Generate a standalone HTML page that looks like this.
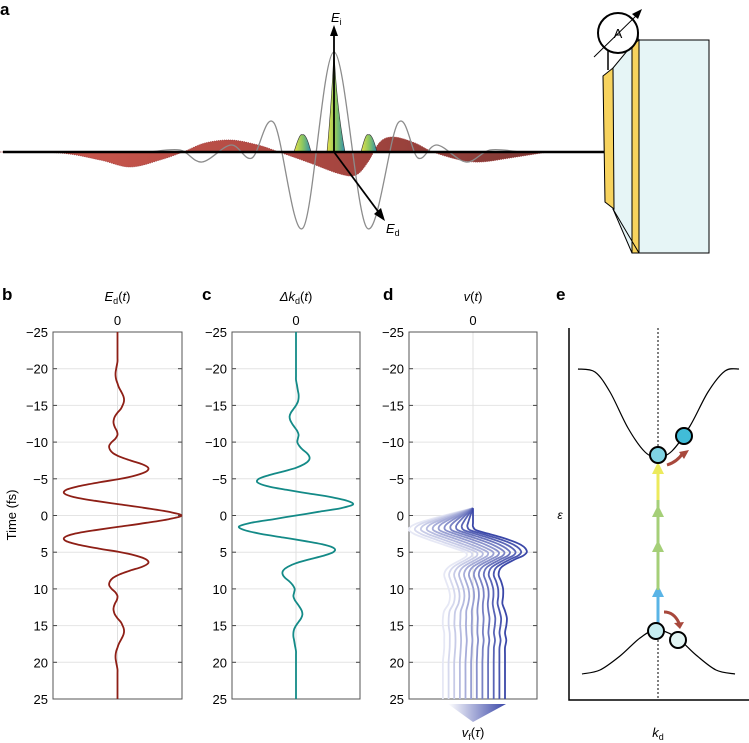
<!DOCTYPE html>
<html><head><meta charset="utf-8"><style>
body{margin:0;background:#fff}
svg{display:block;font-family:"Liberation Sans",sans-serif}
</style></head><body>
<svg id="fig" width="749" height="743" viewBox="0 0 749 743" xmlns="http://www.w3.org/2000/svg">
<defs>
<linearGradient id="redg" x1="0" x2="1" y1="0" y2="0"><stop offset="0" stop-color="#cf5a4f"/><stop offset="0.5" stop-color="#b24a43"/><stop offset="1" stop-color="#7e3834"/></linearGradient>
<linearGradient id="spk" x1="0" x2="1"><stop offset="0" stop-color="#e8e04a"/><stop offset="0.5" stop-color="#8cc760"/><stop offset="1" stop-color="#2f8fb0"/></linearGradient>
<linearGradient id="trig" x1="0" x2="1"><stop offset="0" stop-color="#ffffff"/><stop offset="1" stop-color="#3a47a8"/></linearGradient>
</defs>
<g id="pa"></g>
<g id="pb"></g>
<g id="pc"></g>
<g id="pd"></g>
<g id="pe"></g>
</svg>
<script>
// ---- data ----
const times = [];
for (let i = 0; i <= 100; i++) times.push(-25 + i * 0.5);
// E_d(t), fraction of half width, t = 0..25 step 0.5 (symmetric)
const edHalf = [1.0,0.8,0.45,0.05,-0.35,-0.68,-0.83,-0.8,-0.6,-0.3,0.05,0.3,0.45,0.48,0.38,0.2,0.04,-0.07,-0.12,-0.13,-0.09,-0.03,0.0,-0.01,-0.04,-0.06,-0.06,-0.04,0.0,0.05,0.08,0.1,0.1,0.08,0.05,0.02,0.0,-0.02,-0.03,-0.03,-0.02,-0.01,0.0,0.0,0.0,0.0,0.0,0.0,0.0,0.0,0.0];
const edValues = times.map(t => edHalf[Math.round(Math.abs(t) * 2)]);
// Δk_d(t), t = 0..25 step 0.5 (antisymmetric: value at -t is +)
const dkHalf = [0.0,-0.35,-0.7,-0.89,-0.8,-0.55,-0.2,0.15,0.45,0.6,0.58,0.42,0.2,0.0,-0.13,-0.2,-0.21,-0.17,-0.1,-0.05,-0.02,-0.03,-0.04,-0.02,0.02,0.06,0.09,0.1,0.08,0.04,0.0,-0.03,-0.04,-0.04,-0.03,-0.02,-0.01,0,0,0,0,0,0,0,0,0,0,0,0,0,0];
const dkValues = times.map(t => { const v = dkHalf[Math.round(Math.abs(t) * 2)]; return t < 0 ? -v : v; });
// v(t) family: darkest and lightest curves (t = -1..25)
const vTimes = [-1,0,1,1.5,2,2.5,3,3.5,4,4.5,5,5.5,6,7,8,9,10,11,12,13,14,15,16,17,18,19,20,22,25];
const vDark  = [0,0,0,0,0.05,0.25,0.45,0.62,0.75,0.82,0.84,0.78,0.65,0.45,0.4,0.44,0.47,0.47,0.46,0.5,0.53,0.52,0.5,0.52,0.5,0.5,0.5,0.5,0.5];
const vLight = [0,-0.45,-0.85,-0.97,-1.0,-0.92,-0.78,-0.62,-0.45,-0.28,-0.12,-0.1,-0.18,-0.38,-0.45,-0.42,-0.38,-0.36,-0.38,-0.45,-0.47,-0.47,-0.45,-0.45,-0.45,-0.46,-0.47,-0.47,-0.47];
const nCurves = 12;
const yTicks = [-25,-20,-15,-10,-5,0,5,10,15,20,25];
const yTickLabels = ["\u221225","\u221220","\u221215","\u221210","\u22125","0","5","10","15","20","25"];

const NS = "http://www.w3.org/2000/svg";
function mk(tag, attrs, parent, text) {
  const e = document.createElementNS(NS, tag);
  for (const k in attrs) e.setAttribute(k, attrs[k]);
  if (text !== undefined) e.textContent = text;
  parent.appendChild(e);
  return e;
}
function smooth(pts) {
  let d = "M" + pts[0][0].toFixed(1) + "," + pts[0][1].toFixed(1);
  for (let i = 0; i < pts.length - 1; i++) {
    const p0 = pts[Math.max(0, i - 1)], p1 = pts[i], p2 = pts[i + 1], p3 = pts[Math.min(pts.length - 1, i + 2)];
    const c1 = [p1[0] + (p2[0] - p0[0]) / 6, p1[1] + (p2[1] - p0[1]) / 6];
    const c2 = [p2[0] - (p3[0] - p1[0]) / 6, p2[1] - (p3[1] - p1[1]) / 6];
    d += "C" + c1[0].toFixed(1) + "," + c1[1].toFixed(1) + " " + c2[0].toFixed(1) + "," + c2[1].toFixed(1) + " " + p2[0].toFixed(1) + "," + p2[1].toFixed(1);
  }
  return d;
}
const Y0 = 332, Y1 = 699;
const yScale = t => Y0 + (t + 25) / 50 * (Y1 - Y0);

function axesPanel(g, x0, x1, letter, letterX, titleHTML) {
  const xz = (x0 + x1) / 2;
  const lt = mk("text", {x: letterX, y: 300, "font-size": 17, "font-weight": "bold"}, g, letter);
  
  
  const tt = mk("text", {x: xz, y: 301, "font-size": 13, "text-anchor": "middle"}, g);
  tt.innerHTML = titleHTML;
  
  
  const z = mk("text", {x: xz, y: 325, "font-size": 13, "text-anchor": "middle"}, g, "0");
  
  
  yTicks.forEach((t, i) => {
    const y = yScale(t);
    if (i > 0 && i < yTicks.length - 1) {
      const gl = mk("line", {x1: x0, x2: x1, y1: y, y2: y, stroke: "#e4e4e4", "stroke-width": 1}, g);
      
      
    }
    mk("line", {x1: x0, x2: x0 + 4, y1: y, y2: y, stroke: "#444"}, g);
    mk("line", {x1: x1 - 4, x2: x1, y1: y, y2: y, stroke: "#444"}, g);
    const lab = mk("text", {x: x0 - 5, y: y + 5, "font-size": 13, "text-anchor": "end"}, g, yTickLabels[i]);
    
    
  });
  const zl = mk("line", {x1: xz, x2: xz, y1: Y0, y2: Y1, stroke: "#e0e0e0"}, g);
  
  
  const box = mk("rect", {x: x0, y: Y0, width: x1 - x0, height: Y1 - Y0, fill: "none", stroke: "#555", "stroke-width": 1}, g);
  
  
  return xz;
}

// panel b
const pb = document.getElementById("pb");
const bz = axesPanel(pb, 53, 182, "b", 2, '<tspan font-style="italic">E</tspan><tspan font-size="9" dy="3">d</tspan><tspan dy="-3">(</tspan><tspan font-style="italic">t</tspan>)');
const yl = mk("text", {x: 0, y: 0, "font-size": 13, "text-anchor": "middle", transform: "translate(16,515) rotate(-90)"}, pb, "Time (fs)");


const ed = mk("path", {d: smooth(times.map((t, i) => [bz + edValues[i] * 64, yScale(t)])), fill: "none", stroke: "#8e1f16", "stroke-width": 1.8}, pb);



// panel c
const pc = document.getElementById("pc");
const cz = axesPanel(pc, 232, 360, "c", 202, '<tspan font-style="italic">\u0394k</tspan><tspan font-size="9" dy="3">d</tspan><tspan dy="-3">(</tspan><tspan font-style="italic">t</tspan>)');
const dk = mk("path", {d: smooth(times.map((t, i) => [cz + dkValues[i] * 64, yScale(t)])), fill: "none", stroke: "#138a87", "stroke-width": 1.8}, pc);



// panel d
const pd = document.getElementById("pd");
const dz = axesPanel(pd, 409, 537, "d", 383, '<tspan font-style="italic">v</tspan>(<tspan font-style="italic">t</tspan>)');
for (let k = 0; k < nCurves; k++) {
  const f = k / (nCurves - 1);
  const pts = vTimes.map((t, i) => [dz + (vLight[i] * (1 - f) + vDark[i] * f) * 64, yScale(t)]);
  const c = Math.round(255 - f * (255 - 58)), c2 = Math.round(255 - f * (255 - 71)), c3 = Math.round(255 - f * (255 - 168));
  const col = "rgb(" + Math.round(230 - f * 172) + "," + Math.round(232 - f * 161) + "," + Math.round(245 - f * 77) + ")";
  const p = mk("path", {d: smooth(pts), fill: "none", stroke: col, "stroke-width": 1.8}, pd);
  
  
}
const tri = mk("polygon", {points: "448,704 506,704 473,722", fill: "url(#trig)"}, pd);


const vf = mk("text", {x: 473, y: 737, "font-size": 13, "text-anchor": "middle"}, pd);
vf.innerHTML = '<tspan font-style="italic">v</tspan><tspan font-size="9" dy="3">f</tspan><tspan dy="-3">(</tspan><tspan font-style="italic">\u03c4</tspan>)';



// panel e
const pe = document.getElementById("pe");
const upperBand = [[578,369],[595,372],[610,392],[628,428],[645,452],[658,457],[672,451],[690,426],[708,392],[725,371],[739,369]];
const lowerBand = [[582,674],[600,670],[620,656],[640,638],[656,630],[676,637],[696,655],[716,670],[735,674]];
const el = mk("text", {x: 556, y: 300, "font-size": 17, "font-weight": "bold"}, pe, "e");


mk("polyline", {points: "569,328 569,700 749,700", fill: "none", stroke: "#000", "stroke-width": 1.5}, pe);
mk("line", {x1: 658, x2: 658, y1: 328, y2: 700, stroke: "#000", "stroke-dasharray": "2,2", "stroke-width": 1}, pe);
const ub = mk("path", {d: smooth(upperBand), fill: "none", stroke: "#000", "stroke-width": 1.2}, pe);


const lb = mk("path", {d: smooth(lowerBand), fill: "none", stroke: "#000", "stroke-width": 1.2}, pe);


mk("line", {x1: 658, x2: 658, y1: 625, y2: 592, stroke: "#5ab4e6", "stroke-width": 3}, pe);
mk("polygon", {points: "652,597 664,597 658,585", fill: "#5ab4e6"}, pe);
mk("line", {x1: 658, x2: 658, y1: 590, y2: 500, stroke: "#a5cf78", "stroke-width": 3}, pe);
mk("polygon", {points: "652,552 664,552 658,540", fill: "#a5cf78"}, pe);
mk("polygon", {points: "652,517 664,517 658,505", fill: "#a5cf78"}, pe);
mk("line", {x1: 658, x2: 658, y1: 500, y2: 470, stroke: "#ecea5c", "stroke-width": 3}, pe);
mk("polygon", {points: "652,474 664,474 658,462", fill: "#ecea5c"}, pe);
mk("path", {d: "M667,465 Q677,462 683,453", fill: "none", stroke: "#a8483c", "stroke-width": 3}, pe);
mk("polygon", {points: "679,452 689,450 684,459", fill: "#a8483c"}, pe);
mk("path", {d: "M664,612 Q674,612 679,623", fill: "none", stroke: "#a8483c", "stroke-width": 3}, pe);
mk("polygon", {points: "674,623 684,622 680,629", fill: "#a8483c"}, pe);
[[658,455,"#7fd3e3"],[684,436,"#41bcd8"],[656,631,"#c6ecf0"],[678,640,"#e2f4f3"]].forEach(c => {
  const ci = mk("circle", {cx: c[0], cy: c[1], r: 8, fill: c[2], stroke: "#000", "stroke-width": 2}, pe);
  
  
});
const eps = mk("text", {x: 560, y: 519, "font-size": 12, "font-style": "italic", "text-anchor": "middle"}, pe, "\u03b5");


const kd = mk("text", {x: 658, y: 737, "font-size": 13, "text-anchor": "middle"}, pe);
kd.innerHTML = '<tspan font-style="italic">k</tspan><tspan font-size="9" dy="3">d</tspan>';



// panel a (schematic)
const pa = document.getElementById("pa");
const redRibbon = [[0,152],[60,153],[100,160],[130,167],[160,160],[183,152],[205,143],[231,140],[258,145],[279,152],[310,163],[340,174],[356,175],[368,162],[380,142],[394,137],[415,143],[433,152],[460,160],[481,162],[510,158],[548,152]];
const grayWave = [[150,152],[180,150],[202,162],[231,145],[252,158],[274,123],[303,228],[334,52],[367,228],[398,123],[418,158],[437,145],[466,162],[490,150],[520,152]];
const al = mk("text", {x: 0, y: 15, "font-size": 17, "font-weight": "bold"}, pa, "a");


const rr = mk("path", {d: smooth(redRibbon) + "Z", fill: "url(#redg)", stroke: "#a04040", "stroke-width": 0.8, "stroke-dasharray": "1,1"}, pa);


const gw = mk("path", {d: smooth(grayWave), fill: "none", stroke: "#8c8c8c", "stroke-width": 1.3}, pa);


mk("path", {d: "M327,152 Q331,110 334,52 Q337,110 345,152 Z", fill: "url(#spk)", stroke: "#333", "stroke-width": 0.6}, pa);
mk("path", {d: "M294,152 Q300,132 302,135 Q306,132 311,152 Z", fill: "url(#spk)", stroke: "#333", "stroke-width": 0.6}, pa);
mk("path", {d: "M361,152 Q366,132 368,135 Q372,132 377,152 Z", fill: "url(#spk)", stroke: "#333", "stroke-width": 0.6}, pa);
const ax = mk("line", {x1: 3, x2: 606, y1: 152, y2: 152, stroke: "#000", "stroke-width": 2.5}, pa);


mk("polygon", {points: "616,152 604,146 604,158", fill: "#000"}, pa);
mk("line", {x1: 334, x2: 334, y1: 152, y2: 34, stroke: "#000", "stroke-width": 1.8}, pa);
mk("polygon", {points: "334,25 330,36 338,36", fill: "#000"}, pa);
mk("line", {x1: 334, x2: 380, y1: 152, y2: 214, stroke: "#000", "stroke-width": 1.8}, pa);
mk("polygon", {points: "385,221 374,214 381,208", fill: "#000"}, pa);
const ei = mk("text", {x: 331, y: 22, "font-size": 13}, pa);
ei.innerHTML = '<tspan font-style="italic">E</tspan><tspan font-size="9" dy="3">i</tspan>';


const edl = mk("text", {x: 386, y: 233, "font-size": 13}, pa);
edl.innerHTML = '<tspan font-style="italic">E</tspan><tspan font-size="9" dy="3">d</tspan>';


// device
const dev = mk("g", {}, pa);


mk("rect", {x: 639, y: 40, width: 70, height: 213, fill: "#e6f5f6", stroke: "#000", "stroke-width": 1}, dev);
mk("polygon", {points: "613,68 632,45 632,253 613,209", fill: "#e6f5f6", stroke: "#000", "stroke-width": 1}, dev);
mk("polygon", {points: "632,45 639,40 639,253 632,253", fill: "#f7d35e", stroke: "#000", "stroke-width": 1}, dev);
mk("polygon", {points: "603,76 613,68 614,209 605,202", fill: "#f7d35e", stroke: "#000", "stroke-width": 1}, dev);
mk("line", {x1: 613, x2: 639, y1: 209, y2: 253, stroke: "#000"}, dev);
mk("line", {x1: 608, x2: 608, y1: 50, y2: 70, stroke: "#000", "stroke-width": 1.5}, dev);
mk("line", {x1: 638, x2: 638, y1: 40, y2: 32, stroke: "#000", "stroke-width": 1.5}, dev);
const am = mk("circle", {cx: 618, cy: 33, r: 20, fill: "#fff", stroke: "#000", "stroke-width": 2}, dev);


mk("text", {x: 618, y: 38, "font-size": 13, "text-anchor": "middle"}, dev, "A");
mk("line", {x1: 594, x2: 637, y1: 57, y2: 15, stroke: "#000", "stroke-width": 1}, dev);
mk("polygon", {points: "642,9 632,14 638,19", fill: "#000"}, dev);
</script>
</body></html>
